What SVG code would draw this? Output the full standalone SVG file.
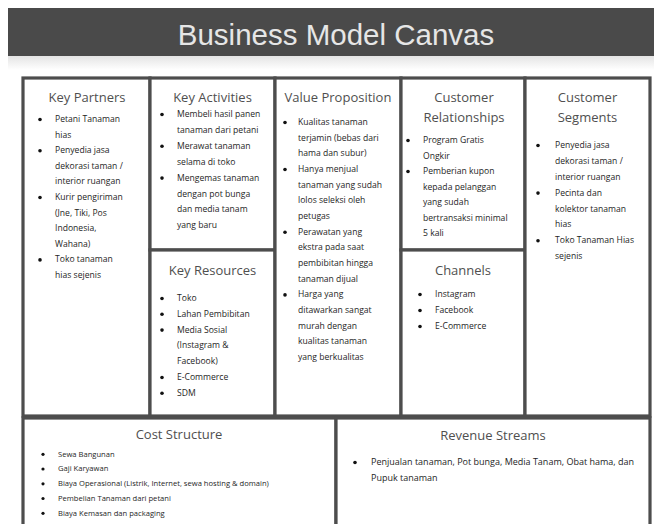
<svg xmlns="http://www.w3.org/2000/svg" width="654" height="524" viewBox="0 0 654 524">
  <defs>
    <linearGradient id="shade" x1="0" y1="0" x2="0" y2="1">
      <stop offset="0" stop-color="#e4e4e4"/>
      <stop offset="1" stop-color="#ffffff"/>
    </linearGradient>
    <style>
      .cell { fill: #ffffff; stroke: #4d4d4d; stroke-width: 3.2; }
      .head { font-family: "Open Sans", "Liberation Sans", sans-serif; font-size: 13px; fill: #4f4f4f; text-anchor: middle; }
      .body { font-family: "Open Sans", "Liberation Sans", sans-serif; font-size: 8.6px; fill: #1e1e1e; }
      .small { font-size: 7.6px; }
      .wide { font-size: 9px; }
      .dot { fill: #111111; }
    </style>
  </defs>

  <rect width="654" height="524" fill="#ffffff"/>

  <!-- title bar -->
  <g id="title">
    <rect x="8" y="8" width="646" height="48" fill="#4a4a4a"/>
    <rect x="8" y="56" width="646" height="14" fill="url(#shade)"/>
    <text x="336" y="45" text-anchor="middle" font-family="Liberation Sans, Arial, sans-serif" font-size="29.5" fill="#e6e6e6">Business Model Canvas</text>
  </g>

  <!-- Key Partners -->
  <g id="key-partners">
    <rect class="cell" x="23" y="78" width="127" height="338"/>
    <text class="head" x="87" y="101.5">Key Partners</text>
    <g class="body">
      <text x="55" y="122">Petani Tanaman</text>
      <text x="55" y="137.6">hias</text>
      <text x="55" y="153.2">Penyedia jasa</text>
      <text x="55" y="168.8">dekorasi taman /</text>
      <text x="55" y="184.4">interior ruangan</text>
      <text x="55" y="200">Kurir pengiriman</text>
      <text x="55" y="215.6">(Jne, Tiki, Pos</text>
      <text x="55" y="231.2">Indonesia,</text>
      <text x="55" y="246.8">Wahana)</text>
      <text x="55" y="262.4">Toko tanaman</text>
      <text x="55" y="278">hias sejenis</text>
    </g>
    <circle class="dot" cx="40" cy="119.5" r="1.8"/>
    <circle class="dot" cx="40" cy="150.7" r="1.8"/>
    <circle class="dot" cx="40" cy="197.5" r="1.8"/>
    <circle class="dot" cx="40" cy="259.9" r="1.8"/>
  </g>

  <!-- Key Activities -->
  <g id="key-activities">
    <rect class="cell" x="150" y="78" width="125" height="172"/>
    <text class="head" x="212.5" y="101.5">Key Activities</text>
    <g class="body">
      <text x="177" y="117">Membeli hasil panen</text>
      <text x="177" y="132.9">tanaman dari petani</text>
      <text x="177" y="148.8">Merawat tanaman</text>
      <text x="177" y="164.7">selama di toko</text>
      <text x="177" y="180.6">Mengemas tanaman</text>
      <text x="177" y="196.5">dengan pot bunga</text>
      <text x="177" y="212.4">dan media tanam</text>
      <text x="177" y="228.3">yang baru</text>
    </g>
    <circle class="dot" cx="162" cy="114.5" r="1.8"/>
    <circle class="dot" cx="162" cy="146.3" r="1.8"/>
    <circle class="dot" cx="162" cy="178.1" r="1.8"/>
  </g>

  <!-- Key Resources -->
  <g id="key-resources">
    <rect class="cell" x="150" y="250" width="125" height="166"/>
    <text class="head" x="212.5" y="274.5">Key Resources</text>
    <g class="body">
      <text x="177" y="301">Toko</text>
      <text x="177" y="316.8">Lahan Pembibitan</text>
      <text x="177" y="332.6">Media Sosial</text>
      <text x="177" y="348.4">(Instagram &amp;</text>
      <text x="177" y="364.2">Facebook)</text>
      <text x="177" y="380">E-Commerce</text>
      <text x="177" y="395.8">SDM</text>
    </g>
    <circle class="dot" cx="162" cy="298.5" r="1.8"/>
    <circle class="dot" cx="162" cy="314.3" r="1.8"/>
    <circle class="dot" cx="162" cy="330.1" r="1.8"/>
    <circle class="dot" cx="162" cy="377.5" r="1.8"/>
    <circle class="dot" cx="162" cy="393.3" r="1.8"/>
  </g>

  <!-- Value Proposition -->
  <g id="value-proposition">
    <rect class="cell" x="275" y="78" width="126" height="338"/>
    <text class="head" x="338" y="101.5">Value Proposition</text>
    <g class="body">
      <text x="298" y="125">Kualitas tanaman</text>
      <text x="298" y="140.7">terjamin (bebas dari</text>
      <text x="298" y="156.4">hama dan subur)</text>
      <text x="298" y="172">Hanya menjual</text>
      <text x="298" y="187.7">tanaman yang sudah</text>
      <text x="298" y="203.4">lolos seleksi oleh</text>
      <text x="298" y="219">petugas</text>
      <text x="298" y="234.7">Perawatan yang</text>
      <text x="298" y="250.4">ekstra pada saat</text>
      <text x="298" y="266">pembibitan hingga</text>
      <text x="298" y="281.7">tanaman dijual</text>
      <text x="298" y="297.4">Harga yang</text>
      <text x="298" y="313">ditawarkan sangat</text>
      <text x="298" y="328.7">murah dengan</text>
      <text x="298" y="344.4">kualitas tanaman</text>
      <text x="298" y="360">yang berkualitas</text>
    </g>
    <circle class="dot" cx="285" cy="122.5" r="1.8"/>
    <circle class="dot" cx="285" cy="169.5" r="1.8"/>
    <circle class="dot" cx="285" cy="232.2" r="1.8"/>
    <circle class="dot" cx="285" cy="294.9" r="1.8"/>
  </g>

  <!-- Customer Relationships -->
  <g id="customer-relationships">
    <rect class="cell" x="401" y="78" width="124" height="172"/>
    <text class="head" x="464" y="101.5">Customer</text>
    <text class="head" x="464" y="121.5">Relationships</text>
    <g class="body">
      <text x="423" y="143">Program Gratis</text>
      <text x="423" y="158.5">Ongkir</text>
      <text x="423" y="174">Pemberian kupon</text>
      <text x="423" y="189.5">kepada pelanggan</text>
      <text x="423" y="205">yang sudah</text>
      <text x="423" y="220.5">bertransaksi minimal</text>
      <text x="423" y="236">5 kali</text>
    </g>
    <circle class="dot" cx="408" cy="140.5" r="1.8"/>
    <circle class="dot" cx="408" cy="171.5" r="1.8"/>
  </g>

  <!-- Channels -->
  <g id="channels">
    <rect class="cell" x="401" y="250" width="124" height="166"/>
    <text class="head" x="463" y="274.5">Channels</text>
    <g class="body">
      <text x="435" y="297">Instagram</text>
      <text x="435" y="313">Facebook</text>
      <text x="435" y="329">E-Commerce</text>
    </g>
    <circle class="dot" cx="420" cy="294.5" r="1.8"/>
    <circle class="dot" cx="420" cy="310.5" r="1.8"/>
    <circle class="dot" cx="420" cy="326.5" r="1.8"/>
  </g>

  <!-- Customer Segments -->
  <g id="customer-segments">
    <rect class="cell" x="525" y="78" width="125" height="338"/>
    <text class="head" x="587.5" y="101.5">Customer</text>
    <text class="head" x="587.5" y="121.5">Segments</text>
    <g class="body">
      <text x="555" y="148">Penyedia jasa</text>
      <text x="555" y="163.9">dekorasi taman /</text>
      <text x="555" y="179.8">interior ruangan</text>
      <text x="555" y="195.6">Pecinta dan</text>
      <text x="555" y="211.5">kolektor tanaman</text>
      <text x="555" y="227.4">hias</text>
      <text x="555" y="243.2">Toko Tanaman Hias</text>
      <text x="555" y="259">sejenis</text>
    </g>
    <circle class="dot" cx="538" cy="145.5" r="1.8"/>
    <circle class="dot" cx="538" cy="193.1" r="1.8"/>
    <circle class="dot" cx="538" cy="240.7" r="1.8"/>
  </g>

  <!-- Cost Structure -->
  <g id="cost-structure">
    <rect class="cell" x="23" y="418" width="313" height="110"/>
    <text class="head" x="179" y="438.5">Cost Structure</text>
    <g class="body small">
      <text x="58" y="456.5">Sewa Bangunan</text>
      <text x="58" y="471.2">Gaji Karyawan</text>
      <text x="58" y="486">Biaya Operasional (Listrik, Internet, sewa hosting &amp; domain)</text>
      <text x="58" y="500.7">Pembelian Tanaman dari petani</text>
      <text x="58" y="515.5">Biaya Kemasan dan packaging</text>
    </g>
    <circle class="dot" cx="43" cy="454.3" r="1.6"/>
    <circle class="dot" cx="43" cy="469" r="1.6"/>
    <circle class="dot" cx="43" cy="483.8" r="1.6"/>
    <circle class="dot" cx="43" cy="498.5" r="1.6"/>
    <circle class="dot" cx="43" cy="513.3" r="1.6"/>
  </g>

  <!-- Revenue Streams -->
  <g id="revenue-streams">
    <rect class="cell" x="336" y="418" width="314" height="110"/>
    <text class="head" x="493" y="439.5">Revenue Streams</text>
    <g class="body wide">
      <text x="371" y="465">Penjualan tanaman, Pot bunga, Media Tanam, Obat hama, dan</text>
      <text x="371" y="481">Pupuk tanaman</text>
    </g>
    <circle class="dot" cx="355" cy="462.5" r="1.8"/>
  </g>

  <!-- no connectors in this canvas layout -->
  <g id="connectors"/>
</svg>
